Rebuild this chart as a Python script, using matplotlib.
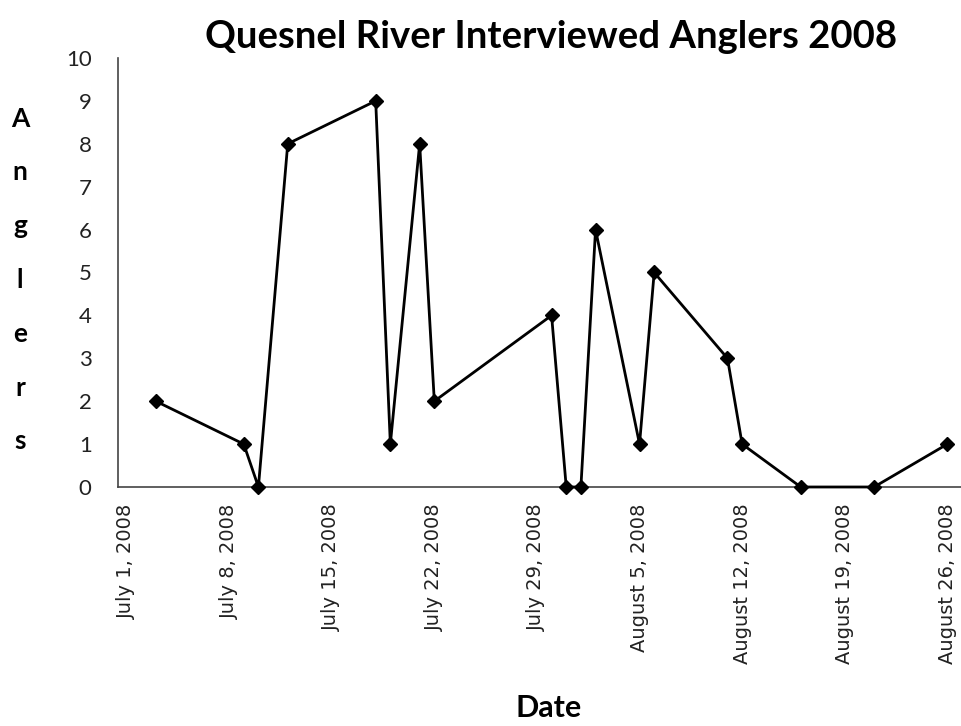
import datetime as dt
import matplotlib
matplotlib.use("Agg")
import matplotlib.pyplot as plt
import matplotlib.dates as mdates

# survey dates and number of anglers interviewed
dates = ["2008-07-03", "2008-07-09", "2008-07-10", "2008-07-12", "2008-07-18",
         "2008-07-19", "2008-07-21", "2008-07-22", "2008-07-30", "2008-07-31",
         "2008-08-01", "2008-08-02", "2008-08-05", "2008-08-06", "2008-08-11",
         "2008-08-12", "2008-08-16", "2008-08-21", "2008-08-26"]
anglers = [2, 1, 0, 8, 9, 1, 8, 2, 4, 0, 0, 6, 1, 5, 3, 1, 0, 0, 1]

tick_dates = ["2008-07-01", "2008-07-08", "2008-07-15", "2008-07-22", "2008-07-29",
              "2008-08-05", "2008-08-12", "2008-08-19", "2008-08-26"]
tick_labels = ["July 1, 2008", "July 8, 2008", "July 15, 2008", "July 22, 2008",
               "July 29, 2008", "August 5, 2008", "August 12, 2008",
               "August 19, 2008", "August 26, 2008"]

x = [dt.datetime.strptime(d, "%Y-%m-%d") for d in dates]
ticks = [dt.datetime.strptime(d, "%Y-%m-%d") for d in tick_dates]

fig = plt.figure(figsize=(9.62, 7.26), dpi=100)
ax = fig.add_axes([118/962, 1 - 487/726, (962 - 118)/962, (487 - 58)/726])

ax.plot(x, anglers, color="black", lw=2, marker="D", markersize=7, zorder=3, clip_on=False)

ax.set_xlim(mdates.date2num(ticks[0]) - 0.58, mdates.date2num(ticks[-1]) + 1.0)
ax.set_ylim(0, 10)
ax.set_yticks(range(0, 11))
ax.set_yticklabels([str(i) for i in range(0, 11)], fontsize=16, family="Lato", color="#222222")
ax.set_xticks(ticks)
ax.set_xticklabels(tick_labels, rotation=90, fontsize=14, family="DejaVu Sans", color="#222222")
ax.tick_params(length=0, pad=12)
ax.tick_params(axis="y", pad=19)

for s in ["top", "right"]:
    ax.spines[s].set_visible(False)
for s in ["left", "bottom"]:
    ax.spines[s].set_color("#444444")
    ax.spines[s].set_linewidth(1.2)

fig.text(551/962, 1 - 37/726, "Quesnel River Interviewed Anglers 2008", ha="center", va="center",
         fontsize=27.5, fontweight="bold", family="Lato")
fig.text(20/962, 1 - 280/726, "\n".join("Anglers"), ha="center", va="center",
         fontsize=19, fontweight="bold", family="Lato", linespacing=2.49)
fig.text(549/962, 1 - 708/726, "Date", ha="center", va="center",
         fontsize=22, fontweight="bold", family="Lato")

fig.savefig("out.png", dpi=100)
